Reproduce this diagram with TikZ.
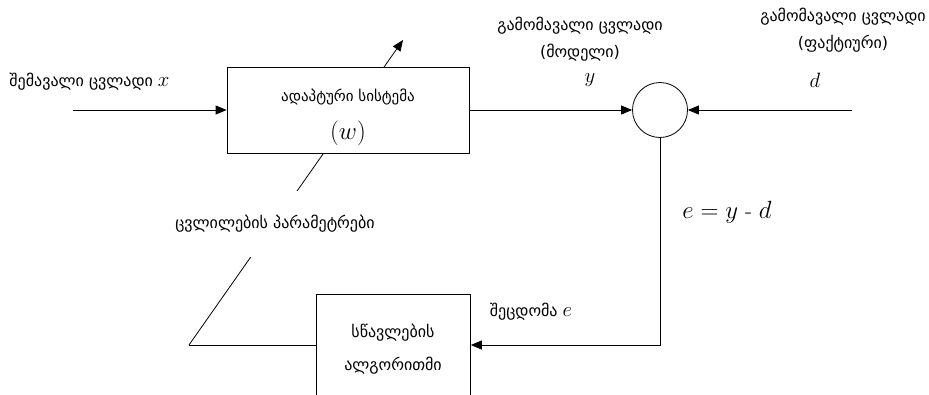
\documentclass[tikz,border=0pt]{standalone}
\usepackage{fontspec}
\newfontfamily\geo{DejaVu Sans}
\usetikzlibrary{arrows.meta, positioning, calc}

\begin{document}
\begin{tikzpicture}[x=1pt, y=-1pt, line width=0.8pt, >={Triangle[length=11pt, width=9pt]},
    block/.style={draw, fill=white, inner sep=0pt},
    lbl/.style={font=\geo\fontsize{16}{27}\selectfont, align=center, inner sep=1pt},
    var/.style={font=\fontsize{21}{21}\selectfont, inner sep=1pt}]
    \useasboundingbox (0,0) rectangle (929,394);
    \coordinate (corner) at (189,345);
    \coordinate (tip) at (403,40);
    \coordinate (in) at (73,110);
    \coordinate (dend) at (852,110);
    \draw[->] (corner) -- (tip);
    \node[lbl, fill=white, inner ysep=24pt] (par) at (275,224) {ცვლილების პარამეტრები};
    \node[block, minimum width=242pt, minimum height=86pt] (sys) at (348,110) {};
    \node[lbl, font=\geo\fontsize{15}{18}\selectfont] (sysname) at (348,97) {ადაპტური სისტემა};
    \node[var, font=\fontsize{27}{27}\selectfont] (w) at (348,133) {$(w)$};
    \node[draw, circle, minimum size=55pt, inner sep=0pt] (sum) at (660,110) {};
    \node[block, minimum width=154pt, minimum height=110pt, anchor=north west] (alg) at (316,294) {};
    \node[lbl, font=\geo\fontsize{16}{33}\selectfont] (algname) at (393,349) {სწავლების\\ალგორითმი};
    \draw[->] (in) -- (sys.west);
    \draw[->] (sys.east) -- (sum.west);
    \draw[->] (dend) -- (sum.east);
    \draw (corner) -- (corner -| alg.west);
    \draw[->] (sum.south) |- (corner -| alg.east);
    \node[lbl, anchor=west] (xlbl) at (8,82) {შემავალი ცვლადი {\fontsize{20}{20}\selectfont$x$}};
    \node[lbl] (ylbl) at (580,39) {გამომავალი ცვლადი\\(მოდელი)};
    \node[var] (y) at (590,80) {$y$};
    \node[lbl] (dlbl) at (843,30) {გამომავალი ცვლადი\\(ფაქტიური)};
    \node[var] (d) at (815,80) {$d$};
    \node[var, font=\fontsize{23}{23}\selectfont] (err) at (727,212) {$e = y$ - $d$};
    \node[lbl] (elbl) at (531,312) {შეცდომა {\fontsize{22}{22}\selectfont$e$}};
\end{tikzpicture}
\end{document}
